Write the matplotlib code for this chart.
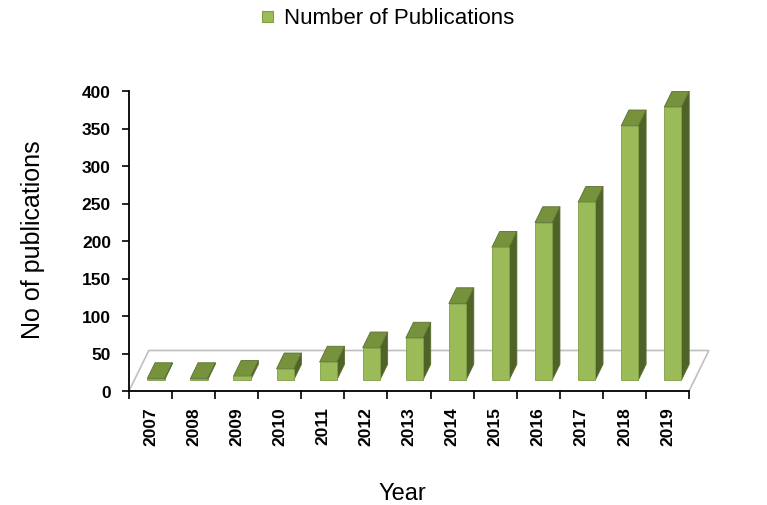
import matplotlib
matplotlib.use("Agg")
import matplotlib.pyplot as plt
from matplotlib.patches import Polygon, Rectangle

plt.rcParams['font.family'] = ['Liberation Sans', 'DejaVu Sans']

years = ['2007', '2008', '2009', '2010', '2011', '2012', '2013',
         '2014', '2015', '2016', '2017', '2018', '2019']
pubs = [2, 2, 5, 15, 24, 43, 56, 102, 177, 210, 237, 339, 364]
yticks = [0, 50, 100, 150, 200, 250, 300, 350, 400]

front_col = '#9bbb59'
top_col = '#76923c'
side_col = '#4f6228'
edge_col = '#5a7030'

# fake 3d: depth offset of the floor in data units
DX, DY = 0.46, 54.0
d0, d1 = 0.27, 0.66
w = 0.40

fig = plt.figure(figsize=(7.67, 5.06), dpi=100)
W, H = 767.0, 506.0
ax = fig.add_axes([129 / W, 114 / H, 590 / W, 300 / H])
n = len(years)
ax.set_xlim(0, 590 / 43.08)
ax.set_ylim(0, 400)

# floor
floor = Polygon([(0, 0), (n, 0), (n + DX, DY), (DX, DY)], closed=True,
                facecolor='white', edgecolor='#bfbfbf', lw=1.2, zorder=1)
ax.add_patch(floor)

ddx = (d1 - d0) * DX
ddy = (d1 - d0) * DY
for i, v in enumerate(pubs):
    x0 = i + (1 - w) / 2 + d0 * DX
    x1 = x0 + w
    yb = d0 * DY
    yt = yb + v
    side = Polygon([(x1, yb), (x1 + ddx, yb + ddy), (x1 + ddx, yt + ddy), (x1, yt)],
                   facecolor=side_col, edgecolor=edge_col, lw=0.6, zorder=2)
    top = Polygon([(x0, yt), (x1, yt), (x1 + ddx, yt + ddy), (x0 + ddx, yt + ddy)],
                  facecolor=top_col, edgecolor=edge_col, lw=0.6, zorder=3)
    front = Polygon([(x0, yb), (x1, yb), (x1, yt), (x0, yt)],
                    facecolor=front_col, edgecolor='#7f9f45', lw=0.6, zorder=4)
    ax.add_patch(side)
    ax.add_patch(top)
    ax.add_patch(front)

ax.spines['top'].set_visible(False)
ax.spines['right'].set_visible(False)
ax.spines['left'].set_bounds(0, 400)
ax.spines['bottom'].set_bounds(0, n)
for s in ('left', 'bottom'):
    ax.spines[s].set_linewidth(1.3)
    ax.spines[s].set_color('black')

ax.set_yticks(yticks)
ax.set_yticklabels([str(t) for t in yticks], fontsize=12.5, fontweight='bold')
ax.tick_params(axis='y', length=5, width=1.2, pad=8)

ax.set_xticks(range(n + 1))
ax.set_xticklabels([])
ax.tick_params(axis='x', which='major', length=6, width=1.2)
ax.set_xticks([i + 0.5 for i in range(n)], minor=True)
ax.set_xticklabels(years, minor=True, rotation=90, fontsize=12.5, fontweight='bold')
ax.tick_params(axis='x', which='minor', length=0, pad=11)

fig.text(33 / W, 1 - 240 / H, 'No of publications', rotation=90,
         ha='center', va='center', fontsize=18)
fig.text(402 / W, 1 - 494 / H, 'Year', ha='center', va='center', fontsize=17)

# legend
fig.patches.append(Rectangle((262 / W, 1 - 23 / H), 11 / W, 11 / H,
                             transform=fig.transFigure, facecolor=front_col,
                             edgecolor='#7f9f45', lw=0.8))
fig.text(284 / W, 1 - 18 / H, 'Number of Publications', ha='left',
         va='center', fontsize=16)

fig.savefig('out.png', dpi=100)
